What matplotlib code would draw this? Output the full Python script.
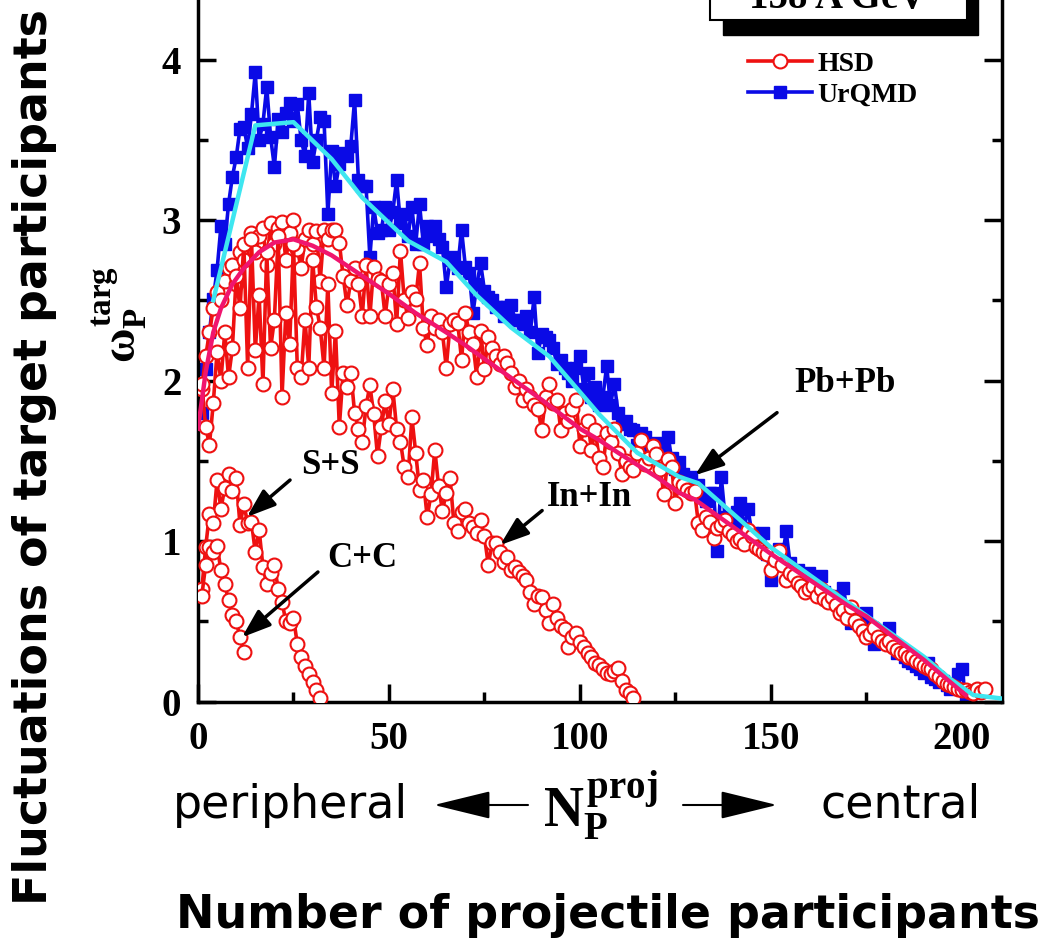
import numpy as np
import matplotlib
matplotlib.use('Agg')
import matplotlib.pyplot as plt
from matplotlib.patches import Rectangle
from matplotlib.lines import Line2D
from matplotlib.ticker import MultipleLocator

plt.rcParams['font.family'] = 'Liberation Serif'
plt.rcParams['font.weight'] = 'bold'
plt.rcParams['mathtext.fontset'] = 'custom'
plt.rcParams['mathtext.rm'] = 'Liberation Serif:bold'
plt.rcParams['mathtext.bf'] = 'Liberation Serif:bold'
plt.rcParams['mathtext.it'] = 'Liberation Serif:bold'

# -----------------------------------------------------------------------
# Datos (omega_P^targ vs N_P^proj, 158 A GeV)
# -----------------------------------------------------------------------
hsd_pbpb = [
    1.95, 2.15, 2.30, 2.45, 2.55, 2.50, 2.62, 2.70, 2.72, 2.60,
    2.80, 2.75, 2.85, 2.92, 2.80, 2.90, 2.95, 2.72, 2.98, 2.85,
    2.95, 2.99, 2.75, 2.92, 3.00, 2.82, 2.70, 2.88, 2.94, 2.85,
    2.93, 2.62, 2.94, 2.88, 2.94, 2.94, 2.86, 2.65, 2.47, 2.62,
    2.70, 2.60, 2.40, 2.72, 2.40, 2.71, 2.63, 2.62, 2.40, 2.60,
    2.67, 2.35, 2.81, 2.50, 2.39, 2.55, 2.51, 2.73, 2.33, 2.22,
    2.40, 2.33, 2.38, 2.30, 2.08, 2.35, 2.38, 2.36, 2.13, 2.42,
    2.30, 2.23, 2.02, 2.31, 2.07, 2.27, 2.20, 2.15, 2.10, 2.15,
    2.11, 2.05, 1.96, 2.00, 1.88, 1.95, 1.90, 1.85, 1.82, 1.69,
    1.90, 1.98, 1.86, 1.88, 1.69, 1.80, 1.75, 1.82, 1.88, 1.59,
    1.70, 1.75, 1.57, 1.69, 1.52, 1.46, 1.67, 1.62, 1.70, 1.55,
    1.42, 1.50, 1.46, 1.44, 1.55, 1.63, 1.48, 1.52, 1.59, 1.54,
    1.45, 1.29, 1.51, 1.46, 1.24, 1.37, 1.35, 1.32, 1.30, 1.31,
    1.11, 1.07, 1.15, 1.12, 1.02, 1.08, 1.10, 1.13, 1.06, 1.04,
    1.00, 1.01, 0.98, 1.07, 1.03, 0.96, 0.95, 0.93, 0.92, 0.82,
    0.88, 0.94, 0.85, 0.76, 0.80, 0.78, 0.74, 0.72, 0.68, 0.70,
    0.72, 0.66, 0.70, 0.64, 0.62, 0.65, 0.60, 0.55, 0.57, 0.52,
    0.59, 0.50, 0.47, 0.44, 0.40, 0.42, 0.46, 0.40, 0.38, 0.36,
    0.38, 0.34, 0.32, 0.30, 0.30, 0.28, 0.28, 0.25, 0.24, 0.22,
    0.21, 0.20, 0.17, 0.15, 0.13, 0.11, 0.10, 0.09, 0.08, 0.07,
    0.07, 0.06, 0.05, 0.08, 0.06, 0.08,
]

urqmd_pbpb = [
    1.80, 2.07, 2.30, 2.51, 2.69, 2.96, 2.85, 3.10, 3.27, 3.39,
    3.57, 3.58, 3.45, 3.66, 3.92, 3.50, 3.60, 3.83, 3.52, 3.33,
    3.63, 3.55, 3.67, 3.73, 3.62, 3.72, 3.50, 3.40, 3.79, 3.36,
    3.50, 3.64, 3.62, 3.04, 3.43, 3.21, 3.35, 3.42, 3.40, 3.46,
    3.75, 3.25, 3.21, 3.21, 2.77, 3.08, 2.92, 2.94, 3.08, 2.94,
    3.05, 3.25, 2.98, 3.04, 2.90, 3.08, 2.85, 3.10, 2.85, 2.96,
    2.90, 2.96, 2.88, 2.83, 2.58, 2.75, 2.77, 2.70, 2.94, 2.71,
    2.67, 2.42, 2.60, 2.73, 2.56, 2.52, 2.50, 2.46, 2.46, 2.40,
    2.46, 2.47, 2.38, 2.38, 2.35, 2.40, 2.30, 2.52, 2.17, 2.29,
    2.27, 2.25, 2.20, 2.10, 2.13, 2.08, 2.05, 2.00, 2.08, 2.15,
    1.95, 2.05, 1.90, 1.96, 1.85, 1.90, 2.09, 1.85, 1.98, 1.80,
    1.73, 1.75, 1.70, 1.69, 1.60, 1.67, 1.65, 1.58, 1.55, 1.61,
    1.55, 1.60, 1.65, 1.52, 1.45, 1.49, 1.42, 1.34, 1.40, 1.32,
    1.35, 1.28, 1.25, 1.30, 1.30, 0.94, 1.40, 1.15, 1.11, 1.10,
    1.18, 1.24, 1.08, 1.20, 1.05, 1.03, 0.98, 1.05, 0.92, 0.76,
    0.88, 0.95, 0.90, 1.06, 0.86, 0.80, 0.82, 0.76, 0.74, 0.80,
    0.70, 0.72, 0.78, 0.68, 0.65, 0.62, 0.66, 0.60, 0.71, 0.55,
    0.49, 0.52, 0.50, 0.48, 0.55, 0.40, 0.36, 0.42, 0.40, 0.38,
    0.46, 0.35, 0.30, 0.32, 0.28, 0.25, 0.24, 0.22, 0.20, 0.18,
    0.24, 0.15, 0.14, 0.12, 0.13, 0.10, 0.08, 0.10, 0.17, 0.20,
    0.03, 0.02,
]

hsd_inin = [
    1.98, 1.71, 1.60, 1.86, 2.18, 2.00, 2.30, 2.02, 2.20, 2.65,
    2.45, 2.85, 2.08, 2.88, 2.19, 2.53, 1.98, 2.80, 2.20, 2.38,
    2.90, 1.90, 2.42, 2.23, 2.85, 2.08, 2.02, 2.38, 2.08, 2.75,
    2.46, 2.33, 2.08, 2.60, 1.92, 2.31, 1.71, 2.05, 1.96, 2.05,
    1.80, 1.70, 1.62, 1.84, 1.97, 1.79, 1.53, 1.71, 1.87, 1.73,
    1.95, 1.70, 1.62, 1.46, 1.40, 1.77, 1.55, 1.32, 1.38, 1.15,
    1.29, 1.57, 1.34, 1.19, 1.30, 1.39, 1.11, 1.06, 1.18, 1.20,
    1.11, 1.09, 1.05, 1.13, 1.03, 0.85, 0.99, 0.99, 0.93, 0.87,
    0.90, 0.82, 0.84, 0.81, 0.78, 0.76, 0.68, 0.61, 0.66, 0.65,
    0.57, 0.49, 0.61, 0.52, 0.47, 0.45, 0.34, 0.40, 0.43, 0.37,
    0.34, 0.30, 0.28, 0.24, 0.23, 0.20, 0.18, 0.17, 0.19, 0.21,
    0.13, 0.07, 0.05, 0.02,
]

hsd_ss = [
    0.70, 0.96, 1.17, 1.11, 1.38, 1.20, 1.33, 1.42, 1.31, 1.39,
    1.10, 1.23, 1.11, 1.12, 0.93, 1.07, 0.84, 0.73, 0.80, 0.85,
    0.70, 0.62, 0.50, 0.49, 0.52, 0.36, 0.28, 0.22, 0.17, 0.12,
    0.07, 0.02,
]

hsd_cc = [0.66, 0.85, 0.96, 0.93, 0.97, 0.82, 0.73, 0.63, 0.54, 0.50, 0.40, 0.31]

# curvas suaves (ajustes)
hsd_fit_n = [0, 2, 4, 6, 9, 12, 16, 20, 25, 30, 35, 40, 45, 50, 57, 65, 70, 80,
             90, 100, 105, 110, 120, 126, 130, 140, 150, 160, 170, 175, 180,
             190, 195, 201]
hsd_fit_w = [1.70, 2.05, 2.30, 2.45, 2.60, 2.70, 2.80, 2.86, 2.88, 2.84, 2.78,
             2.70, 2.62, 2.54, 2.42, 2.30, 2.22, 2.05, 1.88, 1.70, 1.63, 1.55,
             1.40, 1.30, 1.26, 1.09, 0.92, 0.76, 0.60, 0.53, 0.44, 0.26, 0.16,
             0.04]

urqmd_fit_n = [4, 15, 25, 35, 43, 55, 65, 73, 82, 92, 105, 115, 126, 131, 142,
               150, 160, 170, 180, 190, 197, 203, 210]
urqmd_fit_w = [2.50, 3.59, 3.61, 3.38, 3.14, 2.87, 2.74, 2.53, 2.33, 2.15, 1.79,
               1.55, 1.40, 1.36, 1.13, 0.96, 0.79, 0.62, 0.45, 0.28, 0.14, 0.04,
               0.02]

RED     = '#ee1111'
BLUE    = '#0a0ae6'
CYAN    = '#3ee6f0'
MAGENTA = '#f0156e'

# -----------------------------------------------------------------------
# Figura
# -----------------------------------------------------------------------
fig = plt.figure(figsize=(10.52, 9.46), dpi=100)
ax = fig.add_axes([0.18821, 0.25793, 0.76426, 0.77378])

hsd_style = dict(color=RED, lw=2.6, marker='o', ms=10, mfc='white', mec=RED, mew=1.5)
urqmd_style = dict(color=BLUE, lw=2.6, marker='s', ms=9)

ax.plot(np.arange(1, len(urqmd_pbpb) + 1), urqmd_pbpb, zorder=2, **urqmd_style)
for vals in (hsd_pbpb, hsd_inin, hsd_ss, hsd_cc):
    ax.plot(np.arange(1, len(vals) + 1), vals, zorder=3, **hsd_style)
ax.plot(urqmd_fit_n, urqmd_fit_w, color=CYAN, lw=3.2, zorder=4)
ax.plot(hsd_fit_n, hsd_fit_w, color=MAGENTA, lw=3.2, zorder=5)

ax.set_xlim(0, 210.5)
ax.set_ylim(-0.003, 4.558)
ax.xaxis.set_major_locator(MultipleLocator(50))
ax.xaxis.set_minor_locator(MultipleLocator(25))
ax.yaxis.set_major_locator(MultipleLocator(1))
ax.yaxis.set_minor_locator(MultipleLocator(0.5))
ax.tick_params(which='both', direction='in', right=True, top=False, width=2.5,
               labelsize=28)
ax.tick_params(which='major', length=13)
ax.tick_params(which='minor', length=7)
ax.tick_params(axis='x', pad=14)
ax.tick_params(axis='y', pad=12)
for s in ax.spines.values():
    s.set_linewidth(2.5)
ax.spines['top'].set_visible(False)

# leyenda
handles = [Line2D([], [], **hsd_style), Line2D([], [], **urqmd_style)]
ax.legend(handles, ['HSD', 'UrQMD'], loc='upper left', bbox_to_anchor=(0.684, 0.889),
          frameon=False, fontsize=20, handlelength=2.3, handletextpad=0.2,
          labelspacing=0.2, borderpad=0, borderaxespad=0)

# caja "158 A GeV" (recortada por el borde superior, como en el original)
ax.add_patch(Rectangle((137.4, 4.153), 66.8, 0.6, fc='black', ec='black',
                       clip_on=False, zorder=9))
ax.add_patch(Rectangle((134.0, 4.246), 67.3, 0.6, fc='white', ec='black', lw=1.5,
                       clip_on=False, zorder=10))
ax.text(167.5, 4.32, '158 A GeV', ha='center', va='baseline', fontsize=28,
        zorder=11, clip_on=False)

# etiquetas con flecha
arrow_kw = dict(arrowstyle='-|>,head_length=0.7,head_width=0.25', lw=2.5,
                color='black', mutation_scale=25, shrinkA=0, shrinkB=0)
labels = [
    ('Pb+Pb', (169.4, 1.98), (151.6, 1.80), (130.1, 1.41)),
    ('In+In', (102.6, 1.27), (90.1, 1.19), (79.1, 0.975)),
    ('S+S', (34.6, 1.47), (24.1, 1.38), (12.8, 1.15)),
    ('C+C', (42.9, 0.894), (31.4, 0.807), (11.5, 0.40)),
]
for txt, pos, tail, head in labels:
    ax.text(pos[0], pos[1], txt, ha='center', va='center', fontsize=25, zorder=8)
    ax.annotate('', xy=head, xytext=tail, arrowprops=arrow_kw, zorder=8)

# eje y: simbolo
fig.text(120 / 1052, 1 - 315 / 946, r'$\omega_P^{targ}$', rotation=90,
         fontsize=34, ha='center', va='center')

# fila inferior: peripheral <- N_P^proj -> central
row_y = 1 - 805 / 946
fig.text(290 / 1052, row_y, 'peripheral', family='DejaVu Sans', weight='normal',
         fontsize=33, ha='center', va='center')
fig.text(901 / 1052, row_y, 'central', family='DejaVu Sans', weight='normal',
         fontsize=33, ha='center', va='center')
fig.text(600 / 1052, row_y, r'$N_P^{proj}$', fontsize=40, ha='center', va='center')
big_arrow = dict(arrowstyle='-|>,head_length=0.9,head_width=0.22', lw=1.5,
                 color='black', mutation_scale=40, shrinkA=0, shrinkB=0)
ax.annotate('', xy=(434 / 1052, row_y), xytext=(528 / 1052, row_y),
            xycoords='figure fraction', arrowprops=big_arrow, annotation_clip=False)
ax.annotate('', xy=(777 / 1052, row_y), xytext=(683 / 1052, row_y),
            xycoords='figure fraction', arrowprops=big_arrow, annotation_clip=False)

# titulos de ejes
fig.text(35 / 1052, 1 - 457 / 946, 'Fluctuations of target participants',
         family='DejaVu Sans', weight='bold', fontsize=33, rotation=90,
         ha='center', va='center')
fig.text(608 / 1052, 1 - 915 / 946, 'Number of projectile participants',
         family='DejaVu Sans', weight='bold', fontsize=33, ha='center', va='center')

fig.savefig('out.png', dpi=100)
